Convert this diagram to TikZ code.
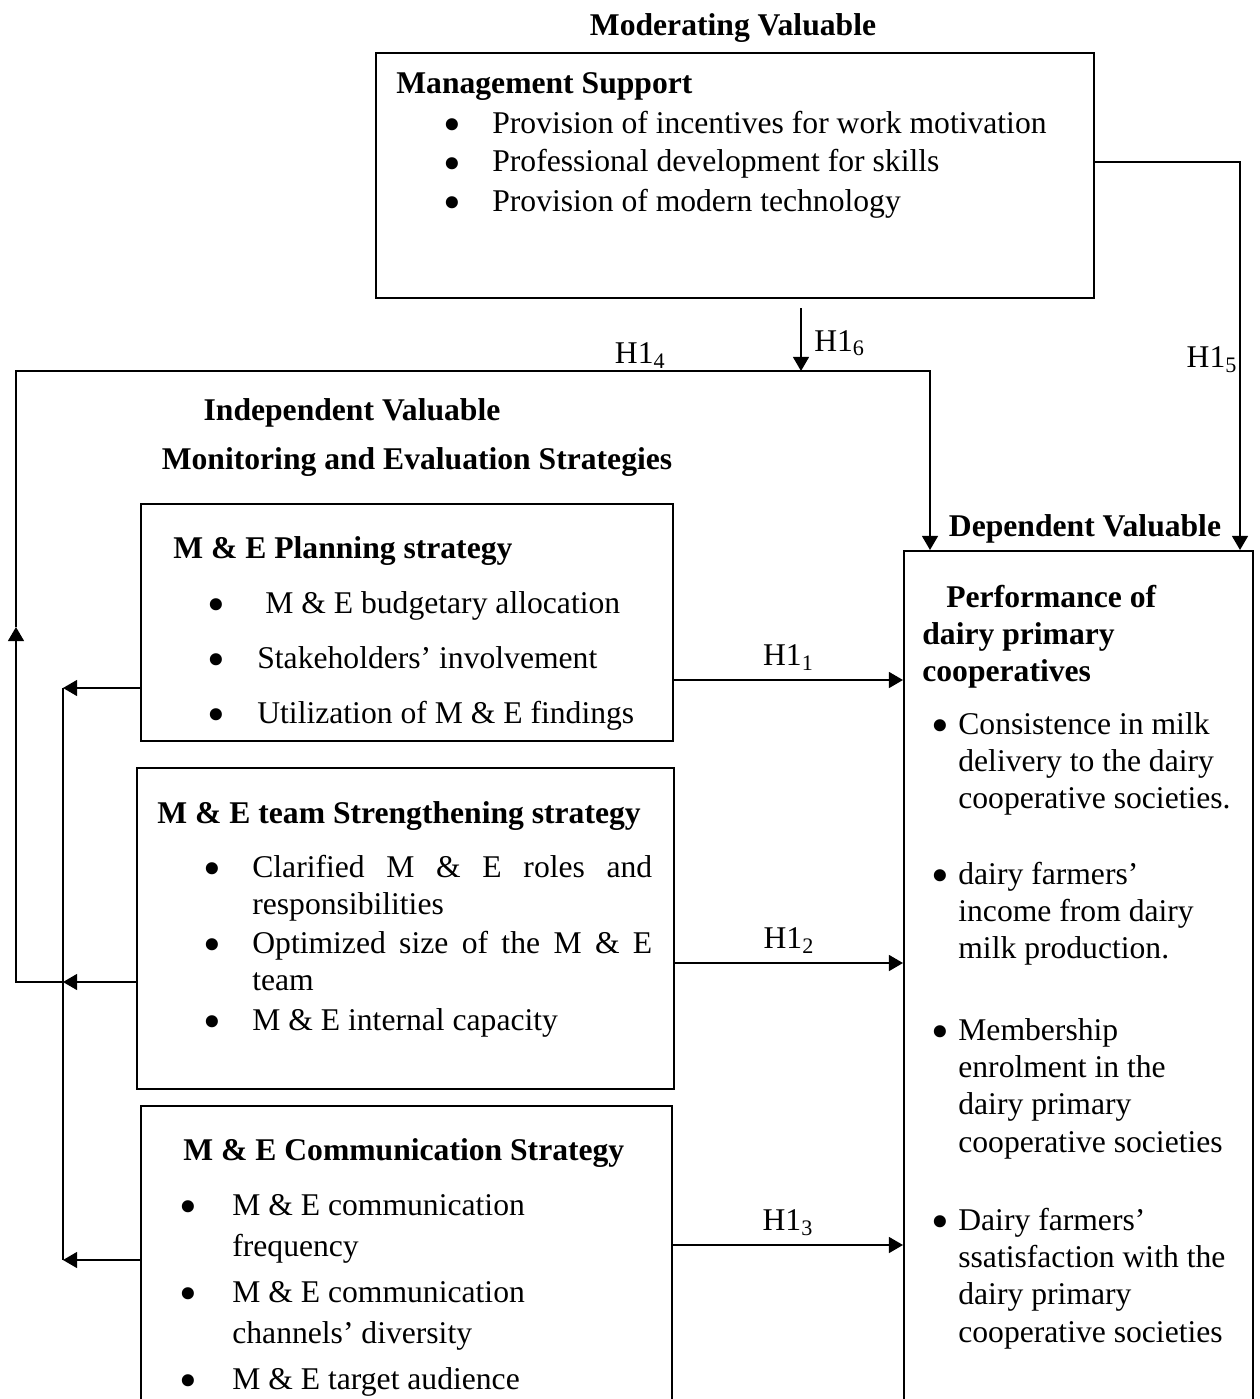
\documentclass[tikz,border=0pt]{standalone}
\usepackage{fontspec}
\setmainfont{Liberation Serif}
\usepackage{graphicx}
\usetikzlibrary{arrows.meta, positioning}
\newcommand{\stack}[1]{\begin{tabular}[t]{@{}l@{}}#1\end{tabular}}
\newcommand{\bt}{\smash{\scalebox{1.6}{\textbullet}}}

\begin{document}
\fontsize{18}{21.3}\selectfont
\begin{tikzpicture}[x=0.02cm, y=-0.02cm]
\tikzstyle{box} = [rectangle, draw=black, line width=1.1pt, anchor=north west, inner sep=0pt]
\tikzstyle{hd} = [anchor=base west, inner sep=0pt, font=\bfseries]
\tikzstyle{itm} = [anchor=base west, inner sep=0pt]
\tikzstyle{bul} = [anchor=base, inner sep=0pt, yshift=-4.9pt]
\tikzstyle{wire} = [line width=1.1pt]
\tikzstyle{arrow} = [line width=1.1pt, -{Triangle[length=8pt,width=9pt]}]

\useasboundingbox (0,0) rectangle (1259,1399);
\clip (0,0) rectangle (1259,1399);

% moderating variable
\node[hd, anchor=base] (mod) at (733,36) {Moderating Valuable};
\node[box, minimum width=14.36cm, minimum height=4.9cm] (mgmt) at (375,52) {};
\node[hd] (mhd) at (396,93) {Management Support};
\node[bul] (mb1) at (452,133) {\bt};
\node[itm] (m1) at (492,133) {Provision of incentives for work motivation};
\node[bul] (mb2) at (452,172) {\bt};
\node[itm] (m2) at (492,172) {Professional development for skills};
\node[bul] (mb3) at (452,211) {\bt};
\node[itm] (m3) at (492,211) {Provision of modern technology};

% independent variable
\node[hd, anchor=base] (ind) at (352,420) {Independent Valuable};
\node[hd, anchor=base] (mes) at (417,469) {Monitoring and Evaluation Strategies};

\node[box, minimum width=10.64cm, minimum height=4.74cm] (plan) at (140,503) {};
\node[hd] (phd) at (173,558) {M \& E Planning strategy};
\node[bul] (pb1) at (216,613) {\bt};
\node[itm] (p1) at (265,613) {M \& E budgetary allocation};
\node[bul] (pb2) at (216,668) {\bt};
\node[itm] (p2) at (257,668) {Stakeholders’ involvement};
\node[bul] (pb3) at (216,723) {\bt};
\node[itm] (p3) at (257,723) {Utilization of M \& E findings};

\node[box, minimum width=10.74cm, minimum height=6.42cm] (team) at (136,767) {};
\node[hd] (thd) at (157,823) {M \& E team Strengthening strategy};
\node[bul] (tb1) at (212,877) {\bt};
\node[itm] (t1) at (252,877) {\stack{\makebox[8cm][s]{Clarified M \& E roles and}\\responsibilities}};
\node[bul] (tb2) at (212,953) {\bt};
\node[itm] (t2) at (252,953) {\stack{\makebox[8cm][s]{Optimized size of the M \& E}\\team}};
\node[bul] (tb3) at (212,1030) {\bt};
\node[itm] (t3) at (252,1030) {M \& E internal capacity};

\node[box, minimum width=10.62cm, minimum height=7.1cm] (comm) at (140,1105) {};
\node[hd] (chd) at (183,1160) {M \& E Communication Strategy};
\node[bul] (cb1) at (188,1215) {\bt};
\node[itm] (c1) at (232,1215) {\stack{M \& E communication\\[2.5pt]frequency}};
\node[bul] (cb2) at (188,1302) {\bt};
\node[itm] (c2) at (232,1302) {\stack{M \& E communication\\[2.5pt]channels’ diversity}};
\node[bul] (cb3) at (188,1389) {\bt};
\node[itm] (c3) at (232,1389) {M \& E target audience};

% dependent variable
\node[hd, anchor=base] (dvar) at (1085,536) {Dependent Valuable};
\node[box, minimum width=6.98cm, minimum height=18.2cm] (dep) at (903,550) {};
\node[hd] (dhd) at (922,607) {\stack{\hspace*{0.48cm}Performance of\\dairy primary\\cooperatives}};
\node[bul] (db1) at (940,734) {\bt};
\node[itm] (d1) at (958,734) {\stack{Consistence in milk\\delivery to the dairy\\cooperative societies.}};
\node[bul] (db2) at (940,884) {\bt};
\node[itm] (d2) at (958,884) {\stack{dairy farmers’\\income from dairy\\milk production.}};
\node[bul] (db3) at (940,1040) {\bt};
\node[itm] (d3) at (958,1040) {\stack{Membership\\enrolment in the\\dairy primary\\cooperative societies}};
\node[bul] (db4) at (940,1230) {\bt};
\node[itm] (d4) at (958,1230) {\stack{Dairy farmers’\\ssatisfaction with the\\dairy primary\\cooperative societies}};

% connector levels
\coordinate (r1) at (0,680);
\coordinate (r2) at (0,963);
\coordinate (r3) at (0,1245);
\coordinate (l1) at (0,688);
\coordinate (l2) at (0,982);
\coordinate (l3) at (0,1260);
\coordinate (bus) at (63,0);
\coordinate (loop) at (16,371);
\coordinate (up) at (16,627);
\coordinate (drop) at (930,0);
\coordinate (h6) at (801,308);
\coordinate (side) at (1240,162);

\draw[arrow] (plan.east |- r1) -- node[above, inner sep=5pt] {H1\textsubscript{1}} (dep.west |- r1);
\draw[arrow] (team.east |- r2) -- node[above, inner sep=5pt] {H1\textsubscript{2}} (dep.west |- r2);
\draw[arrow] (comm.east |- r3) -- node[above, inner sep=5pt] {H1\textsubscript{3}} (dep.west |- r3);

\draw[arrow] (plan.west |- l1) -- (bus |- l1);
\draw[arrow] (team.west |- l2) -- (bus |- l2);
\draw[arrow] (comm.west |- l3) -- (bus |- l3);
\draw[wire] (bus |- l1) -- (bus |- l3);

\draw[arrow] (bus |- l2) -- (loop |- l2) -- (up);
\draw[arrow] (up) -- (loop) -- node[pos=0.683, above, inner sep=1pt] {H1\textsubscript{4}} (drop |- loop) -- (drop |- dep.north);
\draw[arrow] (h6) -- node[right, inner sep=7pt, yshift=-2pt] {H1\textsubscript{6}} (h6 |- loop);
\draw[arrow] (mgmt.east |- side) -- (side) -- node[pos=0.51, left, inner sep=1pt] {H1\textsubscript{5}} (side |- dep.north);
\end{tikzpicture}
\end{document}
